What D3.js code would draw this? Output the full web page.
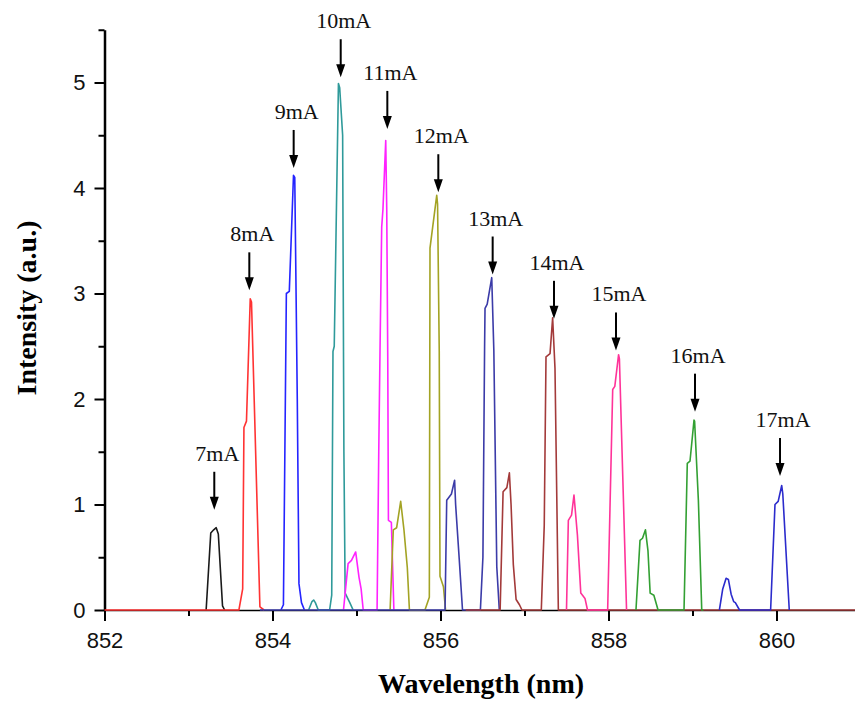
<!DOCTYPE html>
<html>
<head>
<meta charset="utf-8">
<script src="https://cdn.jsdelivr.net/npm/d3@7"></script>
<style>
  html, body { margin: 0; padding: 0; background: #fff; }
  svg { display: block; }
</style>
</head>
<body>
<svg id="chart" width="855" height="702"></svg>
<script>
// ---------------- DATA ----------------
const currents = ["7mA", "8mA", "9mA", "10mA", "11mA", "12mA", "13mA", "14mA", "15mA", "16mA", "17mA"];
const seriesColors = ["#1a1a1a", "#ff3333", "#2424ff", "#2f9a9a", "#ff22ff", "#a3a324",
                      "#3b3ba8", "#a33a3a", "#ff3399", "#33a033", "#2b2bcc"];

// [wavelength (nm), intensity (a.u.)]
const s7mA  = [[853.21,0],[853.265,0.73],[853.30,0.76],[853.33,0.78],[853.355,0.72],[853.405,0.04],[853.43,0]];
const s8mA  = [[852.0,0],[853.60,0],[853.645,0.2],[853.66,1.73],[853.69,1.79],[853.735,2.95],[853.75,2.92],[853.85,0.03],[853.9,0]];
const s9mA  = [[854.10,0],[854.13,0.05],[854.165,3.0],[854.20,3.02],[854.25,4.12],[854.265,4.1],[854.295,2.0],[854.315,0.25],[854.345,0.07],[854.38,0]];
const s10mA = [[854.43,0],[854.47,0.08],[854.49,0.095],[854.51,0.07],[854.545,0],[854.68,0],[854.705,0.14],[854.72,2.45],[854.735,2.5],[854.785,4.99],[854.80,4.95],[854.835,4.5],[854.85,1.5],[854.865,0.16],[854.92,0.07],[854.96,0]];
const s11mA = [[854.845,0],[854.90,0.44],[854.94,0.47],[854.99,0.55],[855.03,0.31],[855.055,0.2],[855.08,0],[855.245,0],[855.265,1.5],[855.28,2.46],[855.30,3.63],[855.315,3.8],[855.348,4.45],[855.36,3.8],[855.372,2.4],[855.38,0.85],[855.415,0.83],[855.445,0]];
const s12mA = [[855.40,0],[855.438,0.76],[855.478,0.78],[855.526,1.03],[855.565,0.76],[855.605,0.4],[855.63,0],[855.815,0],[855.867,0.12],[855.875,3.43],[855.955,3.93],[855.965,3.85],[855.985,2.46],[855.994,0.32],[856.035,0.22],[856.06,0]];
const s13mA = [[853.85,0],[856.054,0],[856.074,1.04],[856.13,1.1],[856.168,1.23],[856.18,1.0],[856.224,0.47],[856.262,0],[856.475,0],[856.505,0.5],[856.525,2.5],[856.53,2.86],[856.556,2.9],[856.61,3.15],[856.635,2.46],[856.67,0.41],[856.70,0]];
const s14mA = [[856.30,0],[856.71,0],[856.745,1.12],[856.79,1.16],[856.82,1.30],[856.84,1.0],[856.867,0.43],[856.90,0.1],[856.94,0.05],[856.97,0],[857.20,0],[857.235,0.8],[857.256,2.40],[857.304,2.43],[857.335,2.77],[857.363,2.29],[857.403,0],[861.0,0]];
const s15mA = [[857.50,0],[857.522,0.85],[857.56,0.9],[857.589,1.09],[857.63,0.71],[857.67,0.16],[857.72,0.11],[857.75,0],[857.99,0],[858.05,2.09],[858.075,2.12],[858.12,2.42],[858.13,2.38],[858.215,0]];
const s16mA = [[858.327,0],[858.375,0.66],[858.405,0.68],[858.44,0.76],[858.47,0.56],[858.496,0.16],[858.54,0.14],[858.59,0],[858.899,0],[858.938,1.39],[858.97,1.41],[859.018,1.80],[859.025,1.79],[859.07,1.04],[859.11,0],[859.13,0]];
const s17mA = [[859.32,0],[859.36,0.2],[859.40,0.3],[859.427,0.29],[859.46,0.15],[859.49,0.08],[859.51,0.07],[859.56,0],[859.93,0],[859.982,1.0],[860.02,1.03],[860.062,1.18],[860.075,1.1],[860.152,0]];
const seriesData = [s7mA, s8mA, s9mA, s10mA, s11mA, s12mA, s13mA, s14mA, s15mA, s16mA, s17mA];

// annotation arrows: wavelength and intensity of each arrow tip
const arrowX = [853.307, 853.724, 854.252, 854.812, 855.367, 855.974, 856.621, 857.351, 858.089, 859.03, 860.042];
const arrowY = [0.95, 3.03, 4.19, 5.05, 4.56, 3.96, 3.18, 2.76, 2.46, 1.88, 1.27];

const xDomain = [852, 861];
const yDomain = [0, 5.5];
const xMajorTicks = [852, 854, 856, 858, 860];
const xMinorTicks = [853, 855, 857, 859, 861];
const yMajorTicks = [0, 1, 2, 3, 4, 5];
const yMinorTicks = [0.5, 1.5, 2.5, 3.5, 4.5, 5.5];
const xTitle = "Wavelength (nm)";
const yTitle = "Intensity (a.u.)";

// ---------------- DRAW ----------------
const svg = d3.select("#chart");
svg.append("rect").attr("width", 855).attr("height", 702).attr("fill", "#fff");

const x = d3.scaleLinear().domain(xDomain).range([104.5, 860.5]);
const y = d3.scaleLinear().domain(yDomain).range([610, 29.75]);

const tickFont = "'Liberation Sans', Arial, sans-serif";
const serifFont = "'Liberation Serif', 'Times New Roman', serif";

// x axis (major)
const gx = svg.append("g").attr("transform", `translate(0,${y(0)})`)
  .call(d3.axisBottom(x).tickValues(xMajorTicks).tickFormat(d3.format("d"))
        .tickSizeInner(11).tickSizeOuter(0).tickPadding(11));
gx.select(".domain").attr("stroke", "#000").attr("stroke-width", 1.5);
gx.selectAll(".tick line").attr("stroke", "#000").attr("stroke-width", 2);
gx.selectAll(".tick text").attr("font-family", tickFont).attr("font-size", 22).attr("fill", "#111");
// x minor
const gxm = svg.append("g").attr("transform", `translate(0,${y(0)})`)
  .call(d3.axisBottom(x).tickValues(xMinorTicks).tickFormat("").tickSizeInner(6).tickSizeOuter(0));
gxm.select(".domain").remove();
gxm.selectAll(".tick line").attr("stroke", "#000").attr("stroke-width", 2);

// y axis (major)
const gy = svg.append("g").attr("transform", `translate(${x(852)},0)`)
  .call(d3.axisLeft(y).tickValues(yMajorTicks).tickFormat(d3.format("d"))
        .tickSizeInner(10).tickSizeOuter(0).tickPadding(9));
gy.select(".domain").attr("stroke", "#000").attr("stroke-width", 2.5);
gy.selectAll(".tick line").attr("stroke", "#000").attr("stroke-width", 2);
gy.selectAll(".tick text").attr("font-family", tickFont).attr("font-size", 22).attr("fill", "#111");
// y minor
const gym = svg.append("g").attr("transform", `translate(${x(852)},0)`)
  .call(d3.axisLeft(y).tickValues(yMinorTicks).tickFormat("").tickSizeInner(6).tickSizeOuter(0));
gym.select(".domain").remove();
gym.selectAll(".tick line").attr("stroke", "#000").attr("stroke-width", 2);

// series lines
const line = d3.line().x(d => x(d[0])).y(d => y(d[1]));
svg.append("g").selectAll("path")
  .data(seriesData)
  .join("path")
  .attr("d", d => line(d))
  .attr("fill", "none")
  .attr("stroke", (d, i) => seriesColors[i])
  .attr("stroke-width", 1.6)
  .attr("stroke-linejoin", "round");

// annotation arrows + labels
const ann = svg.append("g");
currents.forEach((lab, i) => {
  const ax = x(arrowX[i]);
  const ay = y(arrowY[i]);
  const top = ay - 38;
  ann.append("line").attr("x1", ax).attr("x2", ax).attr("y1", top).attr("y2", ay - 11)
    .attr("stroke", "#000").attr("stroke-width", 2);
  ann.append("path")
    .attr("d", `M${ax - 4.5},${ay - 13}L${ax + 4.5},${ay - 13}L${ax},${ay}Z`)
    .attr("fill", "#000");
  ann.append("text").attr("x", ax + 3).attr("y", top - 11)
    .attr("text-anchor", "middle")
    .attr("font-family", serifFont).attr("font-size", 22).attr("fill", "#111")
    .text(lab);
});

// axis titles
svg.append("text").attr("x", 481).attr("y", 693)
  .attr("text-anchor", "middle").attr("font-family", serifFont)
  .attr("font-weight", "bold").attr("font-size", 28).attr("fill", "#000")
  .text(xTitle);
svg.append("text").attr("transform", `translate(36,308) rotate(-90)`)
  .attr("text-anchor", "middle").attr("font-family", serifFont)
  .attr("font-weight", "bold").attr("font-size", 28).attr("fill", "#000")
  .text(yTitle);
</script>
</body>
</html>
